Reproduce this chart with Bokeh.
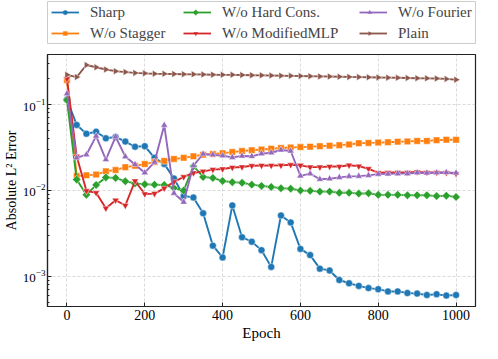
import numpy as np
from bokeh.plotting import figure
from bokeh.layouts import column
from bokeh.models import FixedTicker, LogTickFormatter, Legend, LegendItem
from bokeh.embed import file_html
from bokeh.resources import INLINE

epochs = [0, 25, 50, 75, 100, 125, 150, 175, 200, 225, 250, 275, 300, 325, 350,
          375, 400, 425, 450, 475, 500, 525, 550, 575, 600, 625, 650, 675, 700,
          725, 750, 775, 800, 825, 850, 875, 900, 925, 950, 975, 1000]

sharp = [0.115, 0.058, 0.0458, 0.0483, 0.0405, 0.042, 0.0371, 0.0323, 0.0328, 0.0240,
         0.0204, 0.0138, 0.00865, 0.00828, 0.00543, 0.00228, 0.00166, 0.0067, 0.00286, 0.00253,
         0.00202, 0.00129, 0.00512, 0.00425, 0.00209, 0.00177, 0.00123, 0.00117, 0.000908, 0.000832,
         0.000775, 0.00073, 0.00071, 0.000668, 0.000668, 0.00064, 0.00063, 0.000607, 0.00062, 0.000597,
         0.000607]

stagger = [0.193, 0.0147, 0.0150, 0.0153, 0.0167, 0.0173, 0.0187, 0.0194, 0.0203, 0.0214,
           0.0221, 0.0233, 0.0240, 0.0250, 0.0261, 0.0266, 0.0272, 0.0280, 0.0288, 0.0294,
           0.0300, 0.0306, 0.0312, 0.0317, 0.0320, 0.0323, 0.0328, 0.0332, 0.0337, 0.0343,
           0.0355, 0.0358, 0.0361, 0.0365, 0.0370, 0.0373, 0.0377, 0.0378, 0.0385, 0.0390,
           0.0389]

hard_cons = [0.113, 0.0134, 0.0089, 0.0116, 0.0142, 0.0140, 0.0128, 0.0121, 0.0118, 0.0117,
             0.0116, 0.0107, 0.0100, 0.0192, 0.0144, 0.0140, 0.0129, 0.0125, 0.0123, 0.0117,
             0.0113, 0.0110, 0.0106, 0.0105, 0.0100, 0.0099, 0.0097, 0.0097, 0.0094, 0.0094,
             0.0092, 0.0093, 0.0089, 0.0089, 0.0089, 0.0088, 0.0088, 0.0088, 0.0086, 0.0087,
             0.0084]

modified_mlp = [0.200, 0.025, 0.0099, 0.0094, 0.0062, 0.0077, 0.0067, 0.0129, 0.0091, 0.0092,
                0.0106, 0.0126, 0.0144, 0.0160, 0.0167, 0.0175, 0.0178, 0.0185, 0.0188, 0.0194,
                0.0195, 0.0195, 0.0196, 0.0199, 0.0196, 0.0187, 0.0187, 0.0190, 0.0190, 0.0197,
                0.0192, 0.0179, 0.0161, 0.0162, 0.0162, 0.0162, 0.0164, 0.0162, 0.0162, 0.0161,
                0.0157]

fourier = [0.134, 0.024, 0.0261, 0.043, 0.0229, 0.0422, 0.0248, 0.0201, 0.0161, 0.0214,
           0.0575, 0.0093, 0.00733, 0.0195, 0.0266, 0.0260, 0.0254, 0.0243, 0.0252, 0.0250,
           0.0268, 0.0275, 0.0296, 0.0288, 0.0148, 0.0157, 0.0135, 0.0137, 0.0142, 0.0146,
           0.0147, 0.0150, 0.0155, 0.0156, 0.0157, 0.0157, 0.0161, 0.0160, 0.0161, 0.0162,
           0.0160]

plain = [0.222, 0.209, 0.289, 0.272, 0.256, 0.245, 0.239, 0.234, 0.231, 0.229,
         0.228, 0.227, 0.226, 0.225, 0.224, 0.223, 0.222, 0.222, 0.221, 0.220,
         0.219, 0.218, 0.217, 0.216, 0.215, 0.214, 0.213, 0.212, 0.211, 0.210,
         0.209, 0.208, 0.207, 0.206, 0.205, 0.204, 0.203, 0.202, 0.201, 0.199,
         0.195]

labels = ["Sharp", "W/o Stagger", "W/o Hard Cons.", "W/o ModifiedMLP", "W/o Fourier", "Plain"]
x_ticks = [0, 200, 400, 600, 800, 1000]
y_ticks = [1e-3, 1e-2, 1e-1]

SERIF = "Liberation Serif"
W = 482
LEG_H = 53
MAIN_H = 290
FW_EST = 433      # expected frame width shared by both panels (482 - 42 - 7)
LFH = LEG_H - 1 - 10

series = [
    (labels[0], sharp, "#1f77b4", "circle", 7, 0.0),
    (labels[1], stagger, "#ff7f0e", "square", 6.5, 0.0),
    (labels[2], hard_cons, "#2ca02c", "square", 6, np.pi / 4),
    (labels[3], modified_mlp, "#d62728", "inverted_triangle", 7, 0.0),
    (labels[4], fourier, "#9467bd", "triangle", 7, 0.0),
    (labels[5], plain, "#8c564b", "triangle", 7, -np.pi / 2),
]

# ---------------- main plot ----------------
p = figure(width=W, height=MAIN_H, y_axis_type="log",
           x_range=(-50, 1050), y_range=(4.46e-4, 0.383),
           output_backend="svg", toolbar_location=None,
           min_border_left=42, min_border_right=7, min_border_top=1, min_border_bottom=32)

p.background_fill_color = "white"
p.outline_line_color = "#222222"
p.outline_line_width = 1.2
p.outline_line_alpha = 1.0

p.xaxis.ticker = FixedTicker(ticks=x_ticks, minor_ticks=[])
minor = [k * 10.0 ** e for e in (-4, -3, -2, -1) for k in range(2, 10)]
p.yaxis.ticker = FixedTicker(ticks=y_ticks, minor_ticks=minor)
p.yaxis.formatter = LogTickFormatter()

for ax in (p.xaxis, p.yaxis):
    ax.major_tick_in = 4
    ax.major_tick_out = 0
    ax.minor_tick_in = 2
    ax.minor_tick_out = 0
    ax.axis_line_color = "#222222"
    ax.axis_line_width = 1.2
    ax.major_tick_line_color = "#222222"
    ax.minor_tick_line_color = "#222222"
    ax.major_label_text_font = SERIF
    ax.major_label_text_font_size = "14px"
    ax.major_label_text_color = "black"
    ax.axis_label_text_font = SERIF
    ax.axis_label_text_font_size = "15px"
    ax.axis_label_text_font_style = "normal"
    ax.axis_label_text_color = "black"
    ax.major_label_standoff = 3
    ax.axis_label_standoff = 2

p.yaxis.major_label_text_font_size = "13px"
p.yaxis.axis_label_text_font_size = "14px"
p.yaxis.major_label_standoff = 2
p.yaxis.axis_label_standoff = 1

p.xaxis.axis_label = "Epoch"
p.yaxis.axis_label = "Absolute L² Error"

p.grid.grid_line_color = "#b0b0b0"
p.grid.grid_line_dash = "3 2"
p.grid.grid_line_alpha = 0.6
p.grid.grid_line_width = 0.8

for name, ys, color, marker, size, angle in series:
    p.line(epochs, ys, line_color=color, line_width=1.9)
    p.scatter(epochs, ys, marker=marker, size=size, angle=angle,
              fill_color=color, line_color="white", line_width=0.6, line_alpha=0.8)

# ---------------- legend strip ----------------
lf = figure(width=W, height=LEG_H, x_range=(0, FW_EST), y_range=(0, LFH),
            output_backend="svg", toolbar_location=None,
            x_axis_location=None, y_axis_location=None,
            min_border_left=0, min_border_right=0, min_border_top=1, min_border_bottom=10)
lf.grid.visible = False
lf.background_fill_color = "white"
lf.outline_line_color = "#cccccc"
lf.outline_line_width = 1
lf.outline_line_alpha = 1.0

col_x = [4, 136, 312]
GLYPH_W = 28
ROW_H = 18
ROW_GAP = 3
LEG_Y = 1
row_centers = [LEG_Y + ROW_H + ROW_GAP + ROW_H / 2, LEG_Y + ROW_H / 2]

items = []
for k, (name, ys, color, marker, size, angle) in enumerate(series):
    r1 = lf.line([-10, -9], [-10, -10], line_color=color, line_width=1.8)
    items.append(LegendItem(label=name, renderers=[r1]))
    # marker of the legend glyph, drawn on top so that its rotation is kept
    cx = col_x[k // 2] + GLYPH_W / 2
    cy = row_centers[k % 2]
    lf.scatter([cx], [cy], marker=marker, size=size * 0.75, angle=angle,
               fill_color=color, line_color="white", line_width=0.5, level="overlay")

for i, cx in enumerate(col_x):
    lg = Legend(items=items[2 * i:2 * i + 2], location=(cx, LEG_Y), orientation="vertical")
    lg.label_text_font = SERIF
    lg.label_text_font_size = "15px"
    lg.label_height = ROW_H
    lg.glyph_height = 14
    lg.glyph_width = GLYPH_W
    lg.label_standoff = 11
    lg.spacing = ROW_GAP
    lg.padding = 0
    lg.margin = 0
    lg.border_line_color = None
    lg.background_fill_alpha = 0.0
    lf.add_layout(lg)

layout = column(lf, p, spacing=0)
open("out.html", "w").write(file_html(layout, INLINE))
